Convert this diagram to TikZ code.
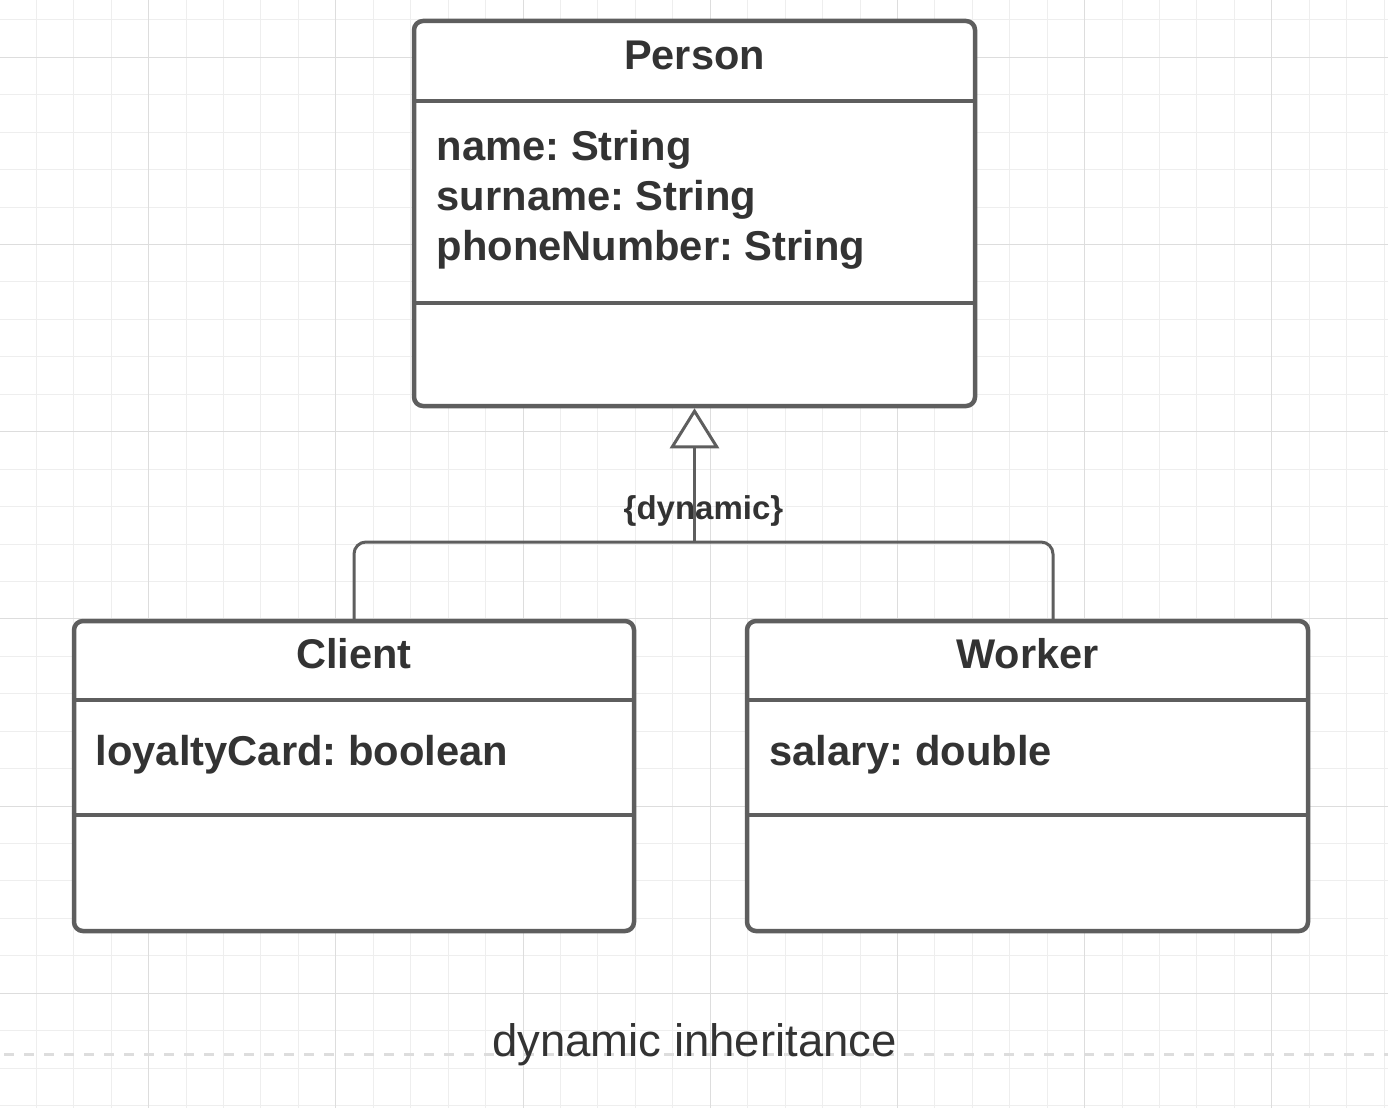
\documentclass[tikz,border=0pt]{standalone}
\usepackage{fontspec}
\setmainfont{Liberation Sans}
\usetikzlibrary{arrows.meta,calc}
\definecolor{linec}{HTML}{5E5E5E}
\definecolor{textc}{HTML}{333333}
\definecolor{gridminor}{HTML}{EEEEEE}
\definecolor{gridmajor}{HTML}{DDDDDD}
\definecolor{dashc}{HTML}{DDDDDD}
\frenchspacing
\begin{document}
\begin{tikzpicture}[x=1pt,y=-1pt,
  umlbox/.style={draw=linec, fill=white, line width=4.5pt, rounded corners=9pt, inner sep=0pt},
  sepline/.style={draw=linec, line width=4.5pt},
  conn/.style={draw=linec, line width=3pt},
  title/.style={text=textc, inner sep=0pt, anchor=base, font=\fontsize{41.5}{50}\selectfont\bfseries},
  attr/.style={text=textc, inner sep=0pt, anchor=base west, font=\fontsize{41.7}{50}\selectfont\bfseries},
  lbl/.style={text=textc, inner sep=0pt, anchor=base, font=\fontsize{33}{39}\selectfont\bfseries},
  caption/.style={text=textc, inner sep=0pt, anchor=base, font=\fontsize{45.5}{53}\selectfont}]
\useasboundingbox (0,0) rectangle (1388,1108);
\fill[white] (0,0) rectangle (1388,1108);
% grid
\foreach \i in {1,...,37} {\draw[gridminor, line width=1pt] ({-1.1+\i*37.44},0) -- ++(0,1108);}
\foreach \k in {-1,...,28} {\draw[gridminor, line width=1pt] (0,{57.3+\k*37.44}) -- ++(1388,0);}
\foreach \i in {4,9,...,34} {\draw[gridmajor, line width=1pt] ({-1.1+\i*37.44},0) -- ++(0,1108);}
\foreach \k in {0,5,...,25} {\draw[gridmajor, line width=1pt] (0,{57.3+\k*37.44}) -- ++(1388,0);}
% dashed separator line
\draw[dashc, line width=3pt, dash pattern=on 10pt off 10pt] (4,1054) -- (1388,1054);
% boxes
\node[umlbox, minimum width=561pt, minimum height=385pt] (person) at (694.5,213.5) {};
\node[umlbox, minimum width=560pt, minimum height=310pt] (client) at (354,776) {};
\node[umlbox, minimum width=561pt, minimum height=310pt] (worker) at (1027.5,776) {};
% compartments
\draw[sepline] (person.west |- 0,101) -- (person.east |- 0,101);
\draw[sepline] (person.west |- 0,303) -- (person.east |- 0,303);
\draw[sepline] (client.west |- 0,700) -- (client.east |- 0,700);
\draw[sepline] (client.west |- 0,815) -- (client.east |- 0,815);
\draw[sepline] (worker.west |- 0,700) -- (worker.east |- 0,700);
\draw[sepline] (worker.west |- 0,815) -- (worker.east |- 0,815);
% texts
\node[title] (ptitle) at (694.5,70) {Person};
\node[attr] (pa1) at (436.5,160.5) {name: String};
\node[attr] (pa2) at (436.5,210.5) {surname: String};
\node[attr] (pa3) at (436.5,260.5) {phoneNumber: String};
\node[title] (ctitle) at (354,668) {Client};
\node[attr] (ca1) at (95.5,765) {loyaltyCard: boolean};
\node[title] (wtitle) at (1027.5,668) {Worker};
\node[attr] (wa1) at (769,765) {salary: double};
\node[lbl] (dyn) at (703.5,519.5) {\{dynamic\}};
\node[caption] (cap) at (694.5,1056.5) {dynamic inheritance};
% generalization connectors
\coordinate (j) at (694.5,542);
\draw[conn, rounded corners=12pt] (client.north) |- (j) -| ([xshift=25.5pt]worker.north);
\draw[conn, -{Triangle[length=40pt, width=49pt, fill=white, line width=3pt]}] (j) -- (person.south);
\end{tikzpicture}
\end{document}
